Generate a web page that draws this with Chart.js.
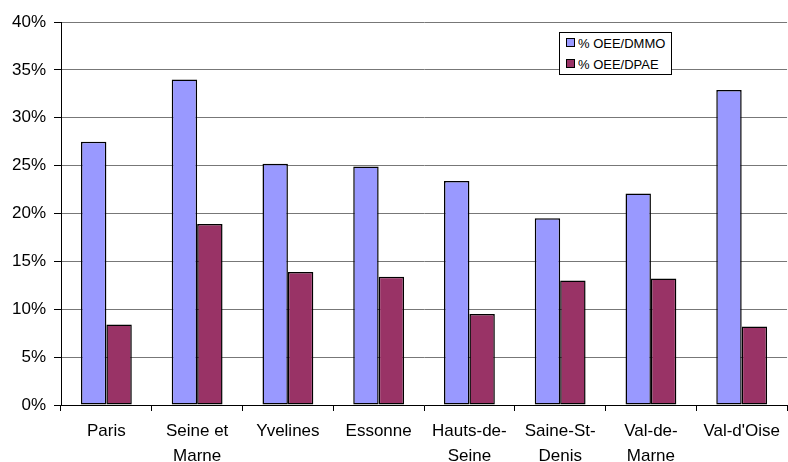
<!DOCTYPE html>
<html>
<head>
<meta charset="utf-8">
<script src="https://cdn.jsdelivr.net/npm/chart.js@4"></script>
<style>
  body { margin: 0; background: #fff; }
  #wrap { position: relative; width: 788px; height: 462px; }
  #legende {
    position: absolute; left: 559px; top: 32px; width: 111px; height: 41px;
    border: 1px solid #000; background: #fff;
    font-family: "Liberation Sans", Arial, sans-serif; font-size: 13px; color: #000;
  }
  #legende div { position: absolute; left: 6px; height: 14px; line-height: 14px; white-space: nowrap; }
  #legende span.carre {
    display: inline-block; width: 7px; height: 7px; border: 1px solid #000;
    margin-right: 3px; vertical-align: 1px;
  }
</style>
</head>
<body>
<div id="wrap">
  <canvas id="graphique" width="788" height="462"></canvas>
  <div id="legende"></div>
</div>
<script>
// DONNÉES
const departements = ['Paris', ['Seine et', 'Marne'], 'Yvelines', 'Essonne', ['Hauts-de-', 'Seine'], ['Saine-St-', 'Denis'], ['Val-de-', 'Marne'], "Val-d'Oise"];
const oeeDmmo = [27.5, 34.0, 25.2, 24.9, 23.4, 19.5, 22.1, 32.9];
const oeeDpae = [8.4, 18.9, 13.9, 13.4, 9.5, 13.0, 13.2, 8.2];
const nomsSeries = ['% OEE/DMMO', '% OEE/DPAE'];
const couleurs = ['#9999FF', '#993366'];

const police = '"Liberation Sans", Arial, sans-serif';

const ctx = document.getElementById('graphique').getContext('2d');

const graphique = new Chart(ctx, {
  type: 'bar',
  data: {
    labels: departements,
    datasets: [
      { label: nomsSeries[0], data: oeeDmmo, backgroundColor: couleurs[0], borderColor: '#000', borderWidth: 1.5, borderSkipped: false },
      { label: nomsSeries[1], data: oeeDpae, backgroundColor: couleurs[1], borderColor: '#000', borderWidth: 1.5, borderSkipped: false }
    ]
  },
  options: {
    responsive: false,
    animation: false,
    devicePixelRatio: 1,
    layout: { padding: { top: 22, right: 0, left: 0, bottom: 0 } },
    datasets: { bar: { categoryPercentage: 0.56, barPercentage: 1 } },
    plugins: {
      legend: { display: false },
      tooltip: { enabled: false }
    },
    scales: {
      x: {
        offset: true,
        grid: { offset: true, drawOnChartArea: false, tickLength: 6, color: '#000' },
        border: { color: '#000', width: 1 },
        ticks: { color: '#000', font: { family: police, size: 17, lineHeight: 1.47 }, padding: 8, maxRotation: 0, autoSkip: false },
        afterFit: (s) => { s.height = 57; }
      },
      y: {
        min: 0,
        max: 40,
        ticks: { stepSize: 5, color: '#000', font: { family: police, size: 17 }, padding: 8, callback: (v) => v + '%' },
        grid: { color: '#777', tickLength: 7, tickColor: '#000' },
        border: { color: '#000', width: 1 },
        afterFit: (s) => { s.width = 61; }
      }
    }
  }
});

// LÉGENDE
const legende = document.getElementById('legende');
nomsSeries.forEach((nom, i) => {
  const ligne = document.createElement('div');
  ligne.style.top = (4 + i * 21) + 'px';
  const carre = document.createElement('span');
  carre.className = 'carre';
  carre.style.background = couleurs[i];
  ligne.appendChild(carre);
  ligne.appendChild(document.createTextNode(nom));
  legende.appendChild(ligne);
});
</script>
</body>
</html>
